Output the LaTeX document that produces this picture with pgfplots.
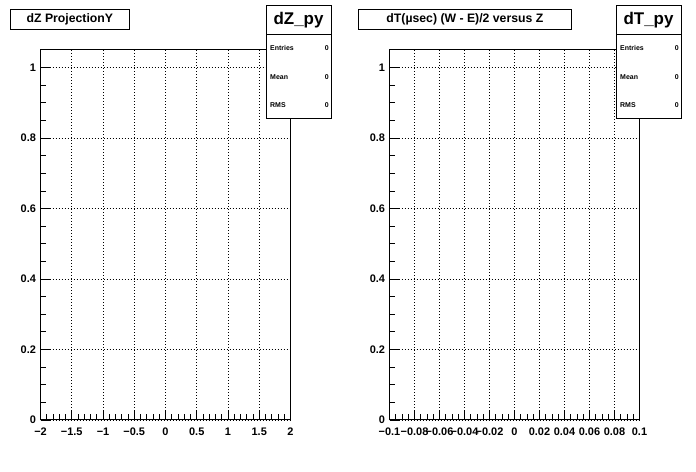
\documentclass[border=0pt]{standalone}
\usepackage{pgfplots}
\pgfplotsset{compat=1.18}
\usepackage{fontspec}
\setmainfont{Liberation Sans}
\begin{document}
\begin{tikzpicture}[x=1bp,y=1bp]
\useasboundingbox (0,0) rectangle (696,472);
\fill[white] (0,0) rectangle (696,472);
\pgfplotsset{rootstyle/.style={
  scale only axis, width=250bp, height=370bp, anchor=south west,
  ymin=0, ymax=1.05, ytick={0,0.2,0.4,0.6,0.8,1}, yticklabels={0,0.2,0.4,0.6,0.8,1},
  minor y tick num=3,
  tick align=inside, xtick pos=left, ytick pos=left,
  grid=major, major grid style={black, line width=0.6bp, dash pattern=on 1bp off 2bp},
  axis line style={line width=1bp},
  tick style={black, line width=0.8bp},
  major tick length=10bp, minor tick length=5.5bp,
  tick label style={font=\bfseries\fontsize{11}{13}\selectfont},
  xticklabel style={yshift=-4bp},
  yticklabel style={xshift=-1bp},
  /pgf/number format/assume math mode=true,
}}
\begin{axis}[rootstyle, at={(40.5bp,52bp)}, xmin=-2, xmax=2,
  xtick={-2,-1.5,-1,-0.5,0,0.5,1,1.5,2},
  xticklabels={−2,−1.5,−1,−0.5,0,0.5,1,1.5,2},
  minor x tick num=4]
\end{axis}
\begin{axis}[rootstyle, at={(389.5bp,52bp)}, xmin=-0.1, xmax=0.1,
  xtick={-0.1,-0.08,-0.06,-0.04,-0.02,0,0.02,0.04,0.06,0.08,0.1},
  xticklabels={−0.1,−0.08,−0.06,−0.04,−0.02,0,0.02,0.04,0.06,0.08,0.1},
  minor x tick num=3]
\end{axis}
% titles
\node[draw, fill=white, line width=0.8bp, minimum width=119bp, minimum height=20bp, anchor=north west, inner sep=0pt,
  font=\bfseries\fontsize{12.3}{14}\selectfont] at (10,463) {dZ ProjectionY};
\node[draw, fill=white, line width=0.8bp, minimum width=213bp, minimum height=20bp, anchor=north west, inner sep=0pt,
  font=\bfseries\fontsize{12.3}{14}\selectfont] at (358,463) {dT(µsec) (W - E)/2 versus Z};
% stats boxes
\foreach \xl/\xr/\nm in {266/331/dZ\_py, 616/681/dT\_py}{
  \draw[fill=white, line width=0.8bp] (\xl,354) rectangle (\xr,467);
  \draw[line width=0.8bp] (\xl,438) -- (\xr,438);
  \node[font=\bfseries\fontsize{17}{19}\selectfont, inner sep=0pt] at ({(\xl+\xr)/2},452) {\nm};
  \node[font=\bfseries\fontsize{7}{8}\selectfont, anchor=west, inner sep=0pt] at (\xl+4,424) {Entries};
  \node[font=\bfseries\fontsize{7}{8}\selectfont, anchor=west, inner sep=0pt] at (\xl+4,395) {Mean};
  \node[font=\bfseries\fontsize{7}{8}\selectfont, anchor=west, inner sep=0pt] at (\xl+4,367) {RMS};
  \node[font=\bfseries\fontsize{7}{8}\selectfont, anchor=east, inner sep=0pt] at (\xr-2,424) {0};
  \node[font=\bfseries\fontsize{7}{8}\selectfont, anchor=east, inner sep=0pt] at (\xr-2,395) {0};
  \node[font=\bfseries\fontsize{7}{8}\selectfont, anchor=east, inner sep=0pt] at (\xr-2,367) {0};
}
\end{tikzpicture}
\end{document}
